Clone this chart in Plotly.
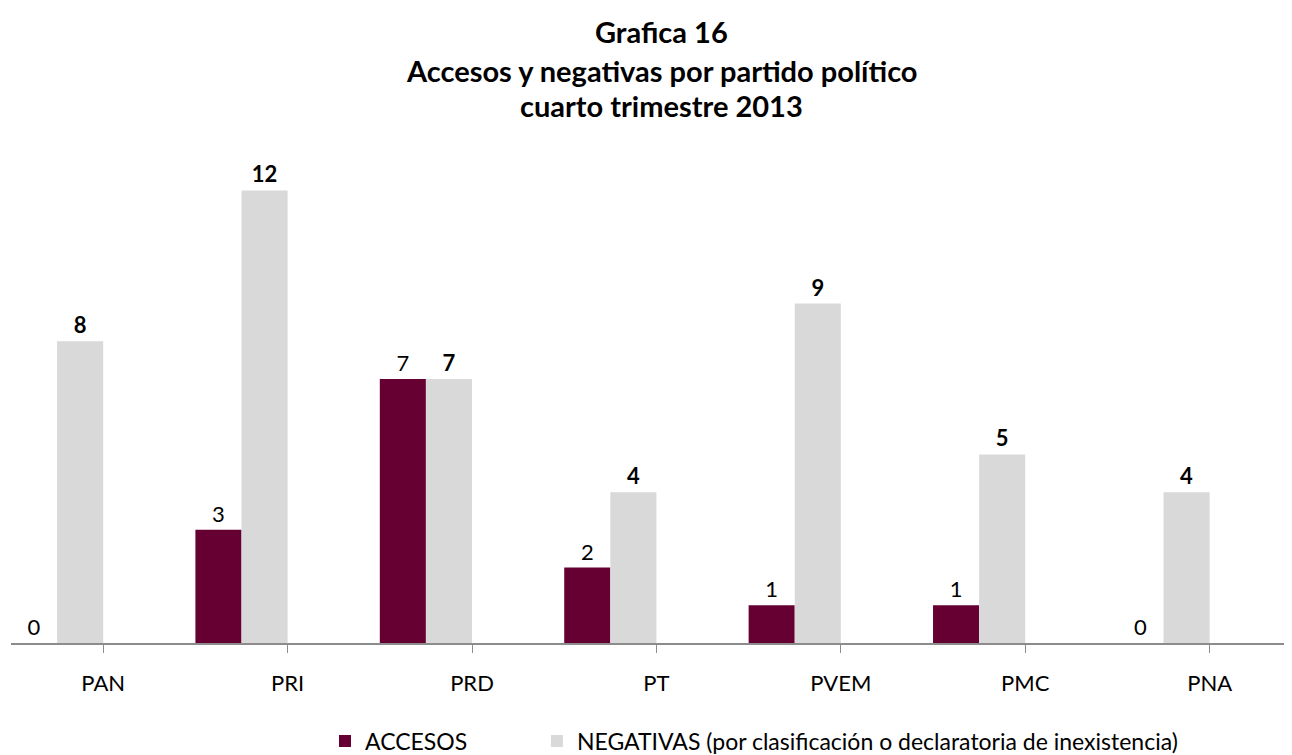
import plotly.graph_objects as go

categories = ["PAN", "PRI", "PRD", "PT", "PVEM", "PMC", "PNA"]
accesos = [0, 3, 7, 2, 1, 1, 0]
negativas = [8, 12, 7, 4, 9, 5, 4]
title_lines = ["Grafica 16", "Accesos y negativas por partido político", "cuarto trimestre 2013"]

FONT = "Lato"
x_idx = list(range(len(categories)))

fig = go.Figure()
fig.add_trace(go.Bar(
    x=x_idx, y=accesos, name="ACCESOS",
    marker=dict(color="#660033", line=dict(width=0)),
    width=0.25, offset=-0.5,
    text=[str(v) for v in accesos], textposition="outside",
    textfont=dict(family=FONT, size=22, color="#000"),
    cliponaxis=False, legend="legend",
))
fig.add_trace(go.Bar(
    x=x_idx, y=negativas,
    name="NEGATIVAS (por clasificación o declaratoria de inexistencia)",
    marker=dict(color="#D9D9D9", line=dict(width=0)),
    width=0.25, offset=-0.25,
    text=["<b>%d</b>" % v for v in negativas], textposition="outside",
    textfont=dict(family=FONT, size=22, color="#000"),
    cliponaxis=False, legend="legend2",
))

title_y = [1.1586, 1.084, 1.0189]
for line, yy in zip(title_lines, title_y):
    fig.add_annotation(
        text="<b>%s</b>" % line, xref="paper", yref="paper",
        x=0.5047, y=yy, xanchor="center", yanchor="middle", showarrow=False,
        font=dict(family=FONT, size=29, color="#000"),
    )

leg_common = dict(
    orientation="h", yanchor="top", y=-0.145, xanchor="left",
    font=dict(family=FONT, size=23, color="#000"),
    bgcolor="rgba(0,0,0,0)",
)

fig.update_layout(
    width=1292, height=755,
    paper_bgcolor="white", plot_bgcolor="white",
    margin=dict(l=3, r=0, t=107, b=111),
    font=dict(family=FONT, size=20, color="#000"),
    barmode="overlay",
    showlegend=True,
    legend=dict(x=0.2436, **leg_common),
    legend2=dict(x=0.408, **leg_common),
    xaxis=dict(
        range=[-0.5, 6.49],
        tickmode="array", tickvals=x_idx, ticktext=categories,
        showline=True, linecolor="#8c8c8c", linewidth=1.5,
        ticks="outside", tickson="boundaries", ticklen=8, tickcolor="#8c8c8c",
        ticklabelstandoff=12,
        showgrid=False, zeroline=False,
        tickfont=dict(family=FONT, size=22, color="#000"),
    ),
    yaxis=dict(
        range=[0, 14], visible=False, showgrid=False, zeroline=False,
    ),
)

fig.write_html("out.html")
